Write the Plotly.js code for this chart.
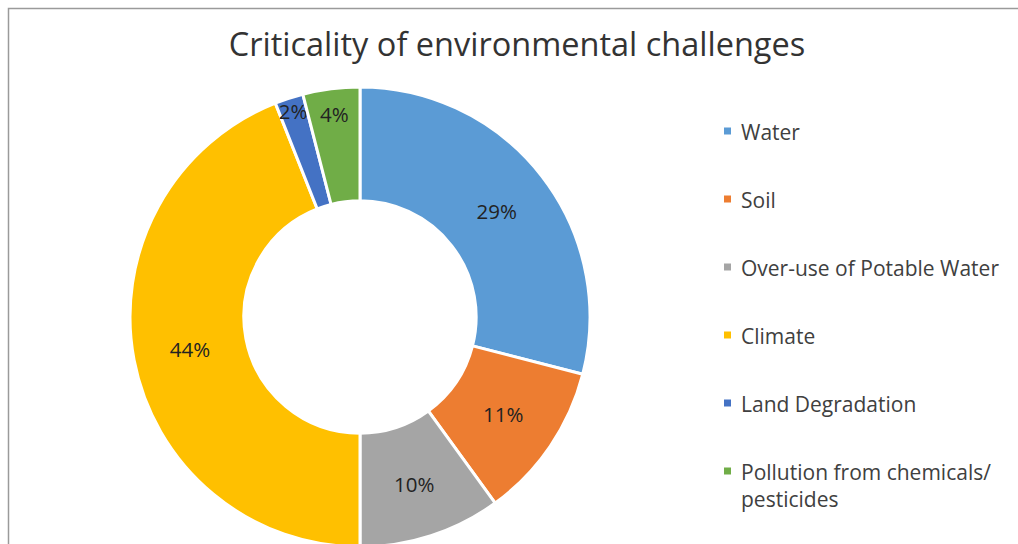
<!DOCTYPE html>
<html>
<head>
<meta charset="utf-8">
<script src="https://cdn.plot.ly/plotly-3.0.1.min.js"></script>
<style>
html,body{margin:0;padding:0;overflow:hidden;background:#fff;}
#chart{width:1018px;height:560px;}
</style>
</head>
<body>
<div id="chart"></div>
<script>
const categories = ["Water", "Soil", "Over-use of Potable Water", "Climate", "Land Degradation", "Pollution from chemicals/<br>pesticides"];
const values = [29, 11, 10, 44, 2, 4];
const colors = ["#5B9BD5", "#ED7D31", "#A5A5A5", "#FFC000", "#4472C4", "#70AD47"];
const chartTitle = "Criticality of environmental challenges";

const W = 1018, H = 560;
const font = "Open Sans, sans-serif";

// pie geometry (pixels)
const cx = 360, cy = 317, R = 230;

const trace = {
  type: "pie",
  labels: categories,
  values: values,
  sort: false,
  direction: "clockwise",
  rotation: 0,
  hole: 0.505,
  marker: {colors: colors, line: {color: "#ffffff", width: 3}},
  textinfo: "percent",
  texttemplate: "%{percent:.0%}",
  textposition: "inside",
  insidetextorientation: "horizontal",
  textfont: {family: font, size: 20.5, color: "#222222"},
  showlegend: false,
  domain: {x: [(cx - R) / W, (cx + R) / W], y: [1 - (cy + R) / H, 1 - (cy - R) / H]},
  hoverinfo: "label+percent"
};

// manual legend built from the category/colour arrays
const legX = 739, legY0 = 131, legStep = 68;
const shapes = [{
  type: "rect", xref: "paper", yref: "paper",
  x0: 8.5 / W, x1: 1.2, y0: -0.2, y1: 1 - 8.5 / H,
  line: {color: "#9a9a9a", width: 1.5}, fillcolor: "rgba(0,0,0,0)"
}];
const annotations = [];
categories.forEach((c, i) => {
  const y = legY0 + i * legStep;
  shapes.push({
    type: "rect", xref: "paper", yref: "paper",
    x0: 724 / W, x1: 731 / W, y0: 1 - (y + 3.5) / H, y1: 1 - (y - 3.5) / H,
    fillcolor: colors[i], line: {width: 0}
  });
  annotations.push({
    xref: "paper", yref: "paper", x: legX / W, y: 1 - (y - 15) / H,
    xanchor: "left", yanchor: "top", align: "left",
    text: c, showarrow: false,
    font: {family: font, size: 21, color: "#404040"}
  });
});

const layout = {
  width: W, height: H,
  margin: {l: 0, r: 0, t: 0, b: 0},
  paper_bgcolor: "#ffffff",
  title: {
    text: chartTitle,
    x: 517 / W, xanchor: "center", xref: "paper",
    y: 1 - 45 / H, yanchor: "middle", yref: "paper",
    font: {family: font, size: 32.5, color: "#333333"}
  },
  uniformtext: {mode: "show", minsize: 20.5},
  shapes: shapes,
  annotations: annotations,
  showlegend: false
};

Plotly.newPlot("chart", [trace], layout, {displayModeBar: false, staticPlot: true});
</script>
</body>
</html>
